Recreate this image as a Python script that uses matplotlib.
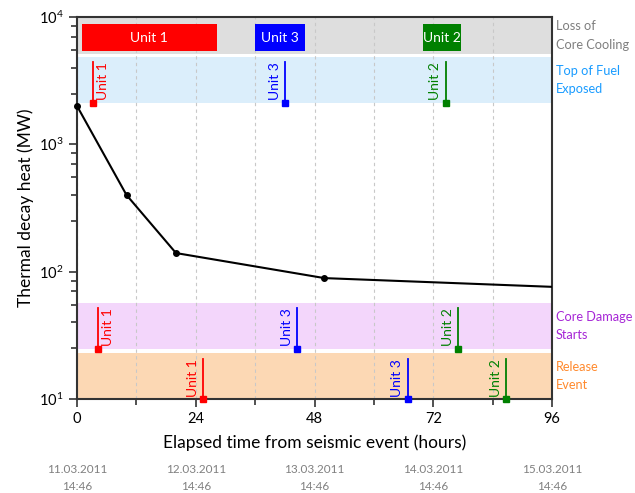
import numpy as np
import matplotlib
matplotlib.use("Agg")
import matplotlib.pyplot as plt
from matplotlib.patches import Rectangle
from matplotlib.ticker import FixedLocator, NullFormatter
import matplotlib.transforms as mtransforms

plt.rcParams['font.family'] = ['Lato', 'DejaVu Sans']

# Decay heat curve
hours = [0, 10, 20, 50, 96]
heat_mw = [2000, 400, 140, 89, 76]
curve_marks = [0, 1, 2, 3]  # points drawn with a dot

# Event bands (MW range) and their labels on the right
band_names = ["Loss of\nCore Cooling", "Top of Fuel\nExposed", "Core Damage\nStarts", "Release\nEvent"]
band_lo = [5100, 2100, 24.7, 10]
band_hi = [10000, 4850, 57, 22.9]
band_fill = ["#dedede", "#dbeefb", "#f3d6fb", "#fcd8b4"]
band_text = ["#7f7f7f", "#1a9cff", "#a626d6", "#ff8a2e"]

units = ["Unit 1", "Unit 3", "Unit 2"]
unit_colors = ["#ff0000", "#0000ff", "#008000"]

# Loss of core cooling periods (hours)
cooling_start = [0.95, 36.0, 70.0]
cooling_end = [28.2, 46.1, 77.6]
bar_lo, bar_hi = 5400, 8800

# Event times (hours) per unit
fuel_exposed = [3.2, 42.0, 74.5]
core_damage = [4.2, 44.5, 77.1]
release = [25.5, 66.8, 86.8]

date_labels = ["11.03.2011\n14:46", "12.03.2011\n14:46", "13.03.2011\n14:46",
               "14.03.2011\n14:46", "15.03.2011\n14:46"]
date_hours = [0, 24, 48, 72, 96]

fig = plt.figure(figsize=(6.35, 4.93), dpi=100)
ax = fig.add_axes([0.1213, 0.1907, 0.748, 0.7748])
ax.set_yscale('log')
ax.set_xlim(0, 96)
ax.set_ylim(10, 10000)

for lo, hi, c in zip(band_lo, band_hi, band_fill):
    ax.axhspan(lo, hi, color=c, lw=0, zorder=0.2)

ax.set_axisbelow(True)
ax.grid(axis='x', which='both', linestyle=(0, (3, 3)), color='#c8c8c8', lw=0.8)

# loss of cooling bars
for name, c, x0, x1 in zip(units, unit_colors, cooling_start, cooling_end):
    ax.add_patch(Rectangle((x0, bar_lo), x1 - x0, bar_hi - bar_lo,
                           facecolor=c, edgecolor='none', zorder=2))
    ax.text((x0 + x1) / 2, np.sqrt(bar_lo * bar_hi), name, color='white',
            ha='center', va='center', fontsize=10, zorder=3)

# event markers with vertical labels
events = [
    (fuel_exposed, 2100, 4450, ['right', 'left', 'left']),
    (core_damage, 24.7, 52, ['right', 'left', 'left']),
    (release, 10, 20.5, ['left', 'left', 'left']),
]
for times, base, top, sides in events:
    for name, c, t, side in zip(units, unit_colors, times, sides):
        ax.plot([t, t], [base, top], color=c, lw=1.3, zorder=4, clip_on=False)
        ax.plot(t, base, 's', color=c, ms=5, zorder=5, clip_on=False)
        dx = 3 if side == 'right' else -3
        ax.annotate(name, (t, top), xytext=(dx, 0), textcoords='offset points',
                    rotation=90, ha='left' if side == 'right' else 'right',
                    va='top', color=c, fontsize=10, zorder=5)

ax.plot(hours, heat_mw, color='black', lw=1.5, zorder=6)
ax.plot([hours[i] for i in curve_marks], [heat_mw[i] for i in curve_marks],
        'o', color='black', ms=4, zorder=7, clip_on=False)

# band labels on the right
trans = mtransforms.blended_transform_factory(ax.transAxes, ax.transData)
for name, lo, hi, c in zip(band_names, band_lo, band_hi, band_text):
    ax.text(1.008, np.sqrt(lo * hi), name, transform=trans, color=c,
            ha='left', va='center', fontsize=9.2, linespacing=1.65)

# date labels under the axis
trans_x = mtransforms.blended_transform_factory(ax.transData, ax.transAxes)
for h, lab in zip(date_hours, date_labels):
    ax.text(h, -0.17, lab, transform=trans_x, color='#808080', ha='center',
            va='top', fontsize=8.5, linespacing=1.65)

ax.set_xticks([0, 24, 48, 72, 96])
ax.xaxis.set_minor_locator(FixedLocator([12, 36, 60, 84]))
minor_y = [m * 10.0 ** d for d in range(1, 4) for m in (2.5, 4, 5.5, 7, 8.5)]
ax.yaxis.set_minor_locator(FixedLocator(minor_y))
ax.yaxis.set_minor_formatter(NullFormatter())

ax.tick_params(which='both', direction='out', top=False, right=False,
               color='#333333', width=1.2, labelsize=10.5)
ax.tick_params(which='major', length=6)
ax.tick_params(which='minor', length=4)
for sp in ax.spines.values():
    sp.set_color('#333333')
    sp.set_linewidth(1.5)

ax.set_xlabel("Elapsed time from seismic event (hours)", fontsize=12.5, labelpad=6)
ax.set_ylabel("Thermal decay heat (MW)", fontsize=12.5, labelpad=4)

fig.savefig("out.png", dpi=100)
